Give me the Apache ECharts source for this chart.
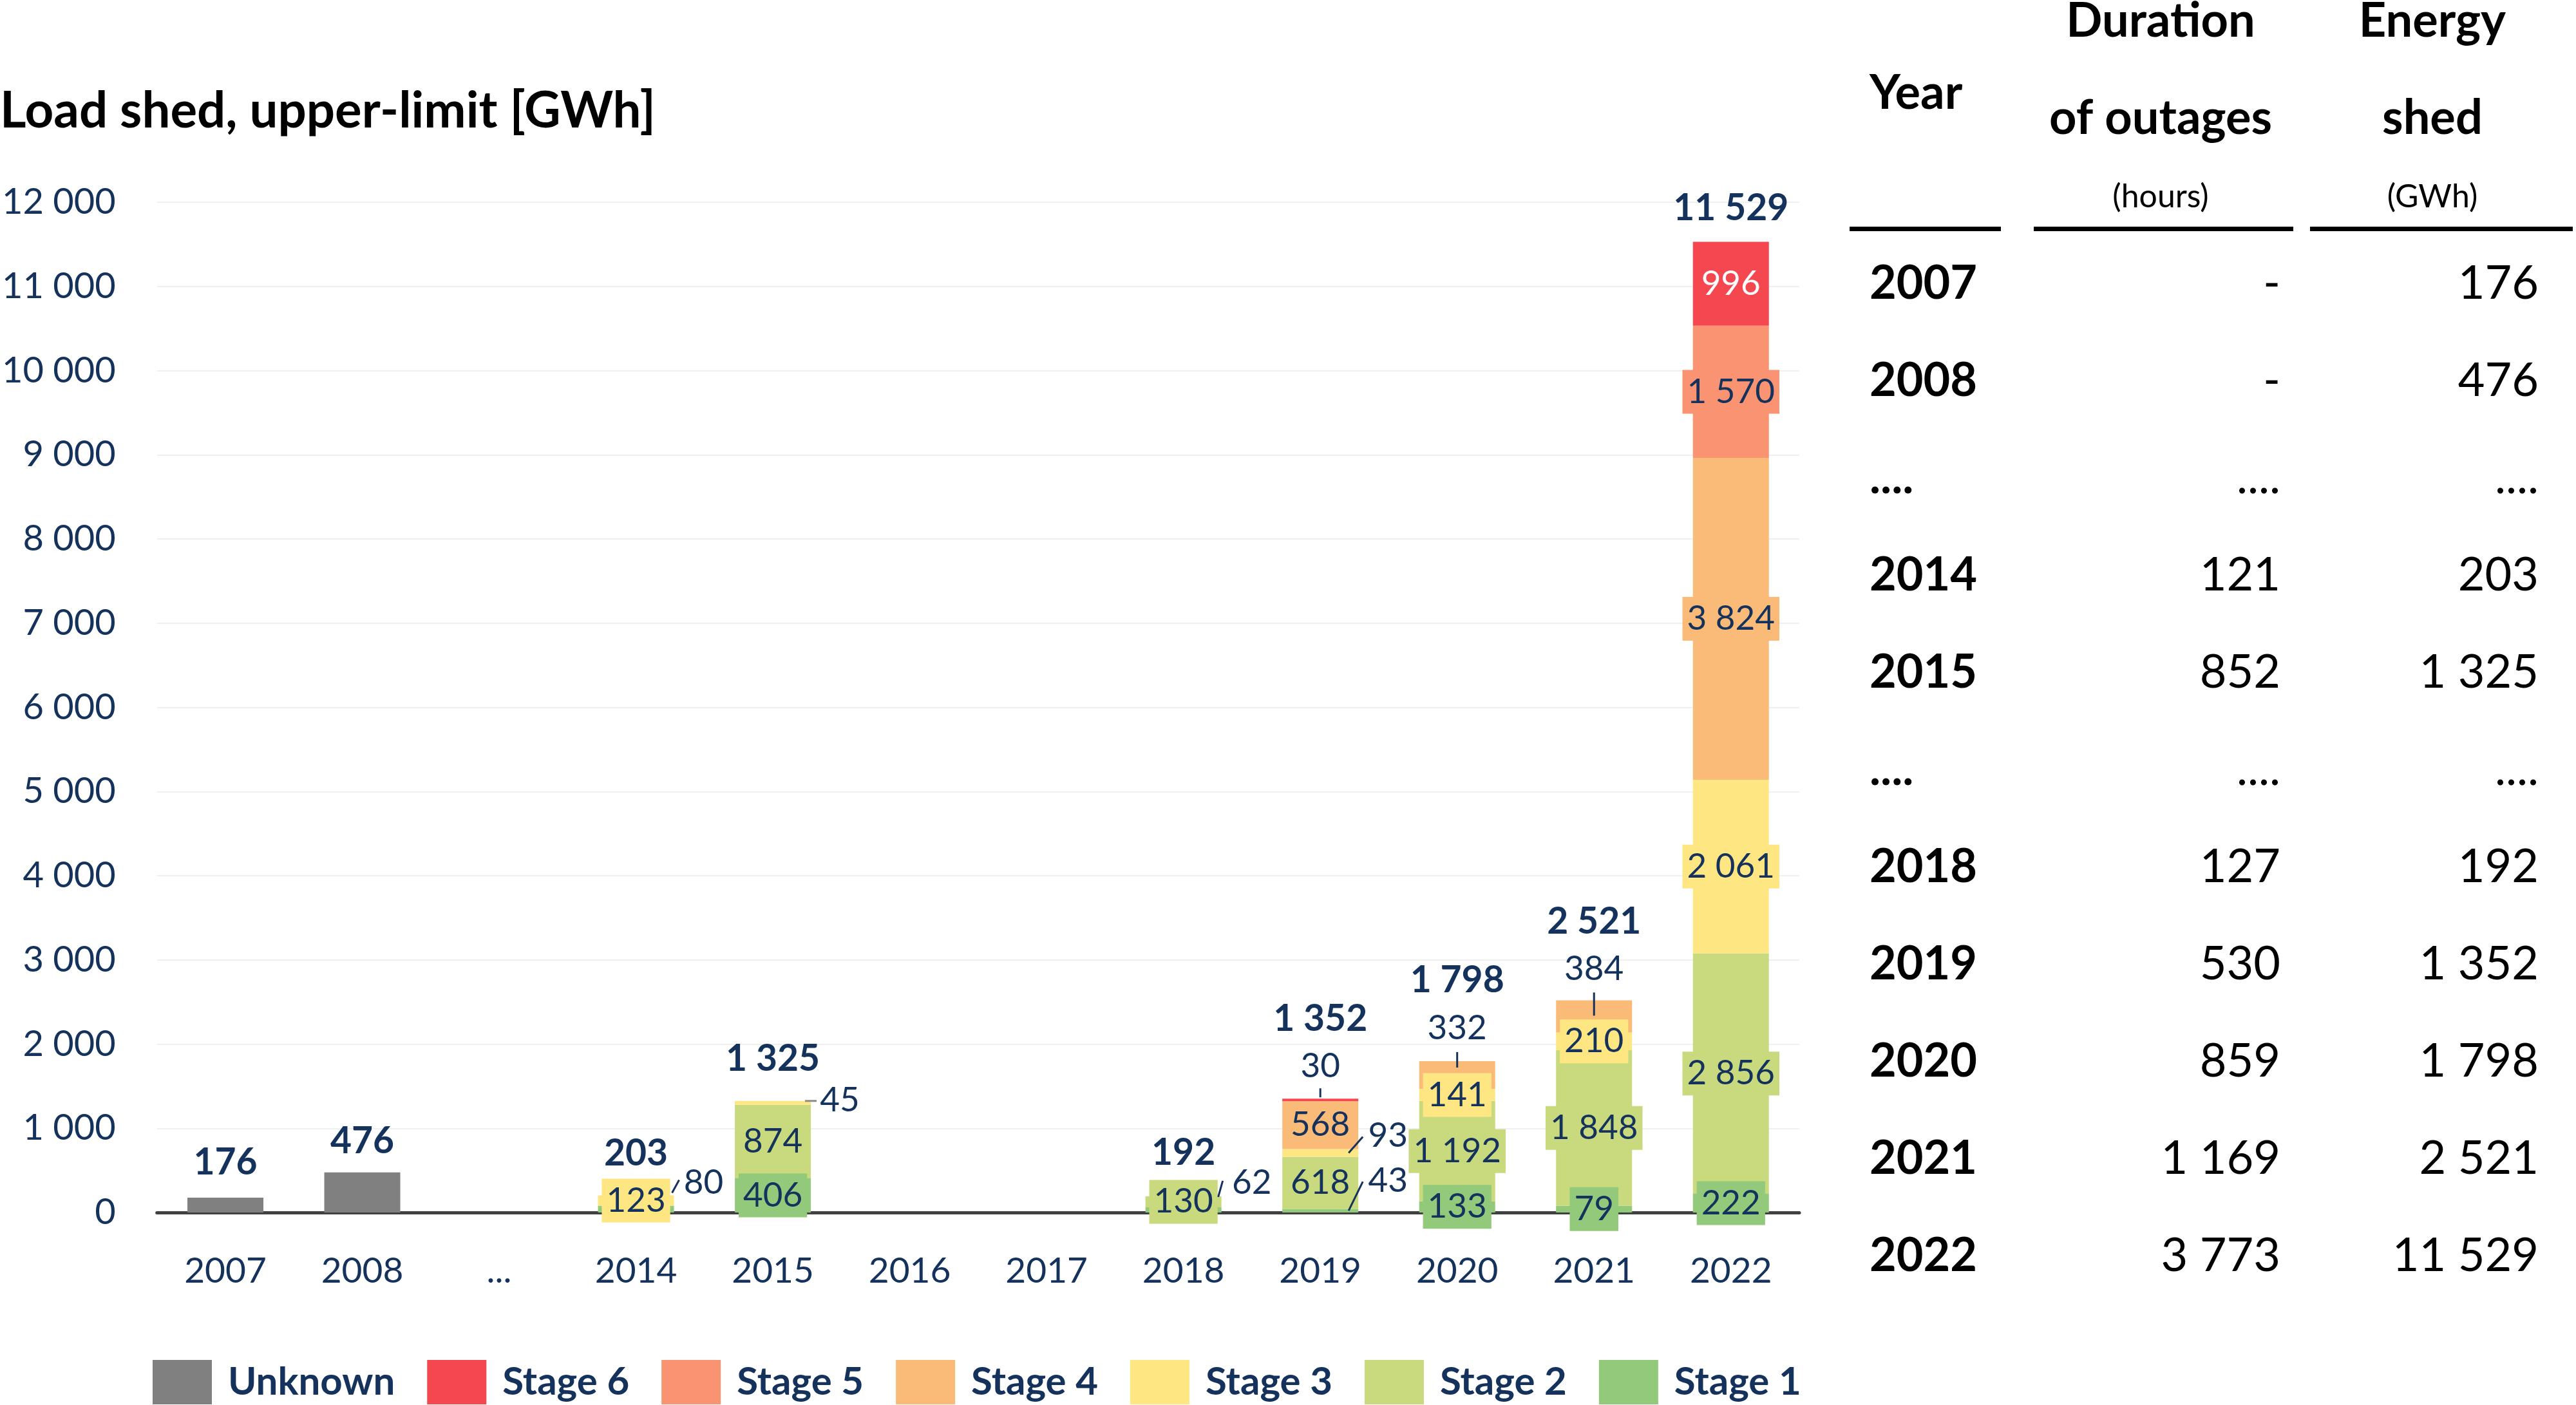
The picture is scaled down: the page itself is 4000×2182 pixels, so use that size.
<!DOCTYPE html>
<html><head><meta charset="utf-8">
<script src="https://cdn.jsdelivr.net/npm/echarts@6/dist/echarts.min.js"></script>
<style>html,body{margin:0;padding:0;background:#fff}#c{width:4000px;height:2182px}</style>
</head><body><div id="c"></div>
<script>
// ---------- DATA ----------
const categories = ['2007','2008','...','2014','2015','2016','2017','2018','2019','2020','2021','2022'];
const unknown = [176, 476, null, null, null, null, null, null, null, null, null, null];
const stage1  = [null, null, null, 80, 406, null, null, 62, 43, 133, 79, 222];
const stage2  = [null, null, null, null, 874, null, null, 130, 618, 1192, 1848, 2856];
const stage3  = [null, null, null, 123, 45, null, null, null, 93, 141, 210, 2061];
const stage4  = [null, null, null, null, null, null, null, null, 568, 332, 384, 3824];
const stage5  = [null, null, null, null, null, null, null, null, null, null, null, 1570];
const stage6  = [null, null, null, null, null, null, null, null, 30, null, null, 996];
const totals  = [176, 476, null, 203, 1325, null, null, 192, 1352, 1798, 2521, 11529];
const yMin = 0, yMax = 12000, yStep = 1000;

const tableYears    = ['2007','2008','....','2014','2015','....','2018','2019','2020','2021','2022'];
const tableDuration = ['-','-','....','121','852','....','127','530','859','1 169','3 773'];
const tableEnergy   = ['176','476','....','203','1 325','....','192','1 352','1 798','2 521','11 529'];

// ---------- STYLE ----------
const FONT = 'Lato';
const NAVY = '#14325C';
const colors = {
  'Unknown': '#808080', 'Stage 6': '#F5474F', 'Stage 5': '#F99372', 'Stage 4': '#FBBB78',
  'Stage 3': '#FEE782', 'Stage 2': '#C9DA7E', 'Stage 1': '#93C97A'
};
// outside labels: [dx, dy] px relative to segment centre
const outside = {
  'Stage 1': {3: [105, -41], 7: [106, -42], 8: [105, -46]},
  'Stage 3': {4: [104, -4], 8: [105, -27]},
  'Stage 6': {8: [0, -52]},
  'Stage 4': {9: [0, -73], 10: [0, -74]}
};
const totalLift = [4, 10, 0, -7, -7, 0, 0, -9, -66, -67, -64, 6];
// leader lines: anchor (series segment mid or bar total) + pixel offsets
const leaderSpecs = [
  {cat: 3, at: 'total', sx: 56, sy: -4, ex: 11, ey: -20},
  {cat: 7, at: 'total', sx: 54, sy: 1, ex: 7, ey: -25},
  {cat: 4, at: 'total', sx: 50, sy: 0, ex: 18, ey: 0, color: '#8c8c8c'},
  {cat: 8, at: 'Stage 3', sx: 44, sy: 0, ex: 22, ey: -25},
  {cat: 8, at: 'Stage 1', sx: 44, sy: 0, ex: 22, ey: -45},
  {cat: 8, at: 'total', sx: 0, sy: -2, ex: 0, ey: -14},
  {cat: 9, at: 'total', sx: 0, sy: 10, ex: 0, ey: -24},
  {cat: 10, at: 'total', sx: 0, sy: 24, ex: 0, ey: -36}
];

const fmt = v => String(v).replace(/\B(?=(\d{3})+(?!\d))/g, ' ');
const BARW = 118;
const stackOrder = [['Stage 1', stage1], ['Stage 2', stage2], ['Stage 3', stage3], ['Stage 4', stage4], ['Stage 5', stage5], ['Stage 6', stage6], ['Unknown', unknown]];

function anchorValue(s) {
  if (s.at === 'total') return totals[s.cat];
  let acc = 0;
  for (const [name, arr] of stackOrder) {
    const v = arr[s.cat] || 0;
    if (name === s.at) return acc + v / 2;
    acc += v;
  }
  return acc;
}

function stageSeries(name, values) {
  const out = outside[name] || {};
  return {
    name, type: 'bar', stack: 'a', barWidth: BARW,
    itemStyle: {color: colors[name]},
    label: {
      show: true, position: 'inside', formatter: p => fmt(p.value),
      fontFamily: FONT, fontSize: 53, lineHeight: 60,
      color: name === 'Stage 6' ? '#FFFFFF' : NAVY,
      backgroundColor: colors[name], padding: [4, 7]
    },
    data: values.map((v, i) => {
      if (v == null) return null;
      if (out[i]) {
        return {value: v, label: {offset: out[i], backgroundColor: 'transparent', padding: 0, color: NAVY}};
      }
      return v;
    })
  };
}

const series = [
  stageSeries('Stage 1', stage1),
  stageSeries('Stage 2', stage2),
  stageSeries('Stage 3', stage3),
  stageSeries('Stage 4', stage4),
  stageSeries('Stage 5', stage5),
  stageSeries('Stage 6', stage6),
  {name: 'Unknown', type: 'bar', stack: 'a', barWidth: BARW, itemStyle: {color: colors['Unknown']}, data: unknown},
  {
    name: 'Total', type: 'bar', barWidth: BARW, barGap: '-100%',
    itemStyle: {color: 'rgba(0,0,0,0)'}, z: 5,
    label: {show: true, position: 'top', distance: 28, formatter: p => fmt(p.value),
      fontFamily: FONT, fontSize: 57, fontWeight: 'bold', lineHeight: 60, color: NAVY},
    data: totals.map((v, i) => v == null ? null : {value: v, label: {offset: [0, totalLift[i]]}})
  },
  {
    name: 'leaders', type: 'custom', silent: true, z: 10,
    data: leaderSpecs.map((s, i) => [s.cat, anchorValue(s), i]),
    encode: {x: 0, y: 1},
    renderItem: (params, api) => {
      const s = leaderSpecs[api.value(2)];
      const p = api.coord([api.value(0), api.value(1)]);
      const x0 = p[0] + s.sx, y0 = p[1] + s.sy;
      return {type: 'line', shape: {x1: x0, y1: y0, x2: x0 + s.ex, y2: y0 + s.ey},
        style: {stroke: s.color || NAVY, lineWidth: 3}};
    }
  }
];

// ---------- TABLE (graphic text) ----------
const graphics = [];
function txt(x, y, text, size, weight, align) {
  graphics.push({type: 'text', x, y, silent: true, style: {
    text, fontFamily: FONT, fontSize: size, fontWeight: weight, fill: '#000',
    align, verticalAlign: 'middle', textAlign: align, textVerticalAlign: 'middle'}});
}
txt(0, 173, 'Load shed, upper-limit [GWh]', 78, 'bold', 'left');
txt(2903, 145, 'Year', 74, 'bold', 'left');
txt(3355, 33, 'Duration', 74, 'bold', 'center');
txt(3355, 184, 'of outages', 74, 'bold', 'center');
txt(3355, 306, '(hours)', 50, 'normal', 'center');
txt(3777, 33, 'Energy', 74, 'bold', 'center');
txt(3777, 184, 'shed', 74, 'bold', 'center');
txt(3777, 306, '(GWh)', 50, 'normal', 'center');
[[2872, 3107], [3158, 3561], [3587, 3995]].forEach(([a, b]) => {
  graphics.push({type: 'rect', silent: true, shape: {x: a, y: 352, width: b - a, height: 7}, style: {fill: '#000'}});
});
const rowY0 = 441, rowStep = 151;
tableYears.forEach((t, i) => {
  const y = rowY0 + i * rowStep;
  txt(2903, y, t, 72, 'bold', 'left');
  txt(3541, y, tableDuration[i], 72, 'normal', 'right');
  txt(3942, y, tableEnergy[i], 72, 'normal', 'right');
});

const chart = echarts.init(document.getElementById('c'), null, {renderer: 'canvas'});
chart.setOption({
  animation: false,
  backgroundColor: '#fff',
  grid: {left: 243, right: 1206, top: 314, bottom: 299, containLabel: false},
  xAxis: {
    type: 'category', data: categories,
    axisLine: {show: true, lineStyle: {color: '#404040', width: 5}},
    axisTick: {show: false},
    axisLabel: {fontFamily: FONT, fontSize: 55, color: NAVY, margin: 64}
  },
  yAxis: {
    type: 'value', min: yMin, max: yMax, interval: yStep,
    axisLine: {show: false}, axisTick: {show: false},
    splitLine: {lineStyle: {color: '#F0F0F0', width: 2}},
    axisLabel: {fontFamily: FONT, fontSize: 56, color: NAVY, margin: 64, formatter: v => fmt(v)}
  },
  legend: {
    data: ['Unknown', 'Stage 6', 'Stage 5', 'Stage 4', 'Stage 3', 'Stage 2', 'Stage 1'],
    left: 232, top: 2107, icon: 'rect', itemWidth: 92, itemHeight: 69, itemGap: 50,
    textStyle: {fontFamily: FONT, fontSize: 60, fontWeight: 'bold', color: NAVY, padding: [0, 0, 0, 20]}
  },
  series,
  graphic: graphics
});
</script></body></html>
